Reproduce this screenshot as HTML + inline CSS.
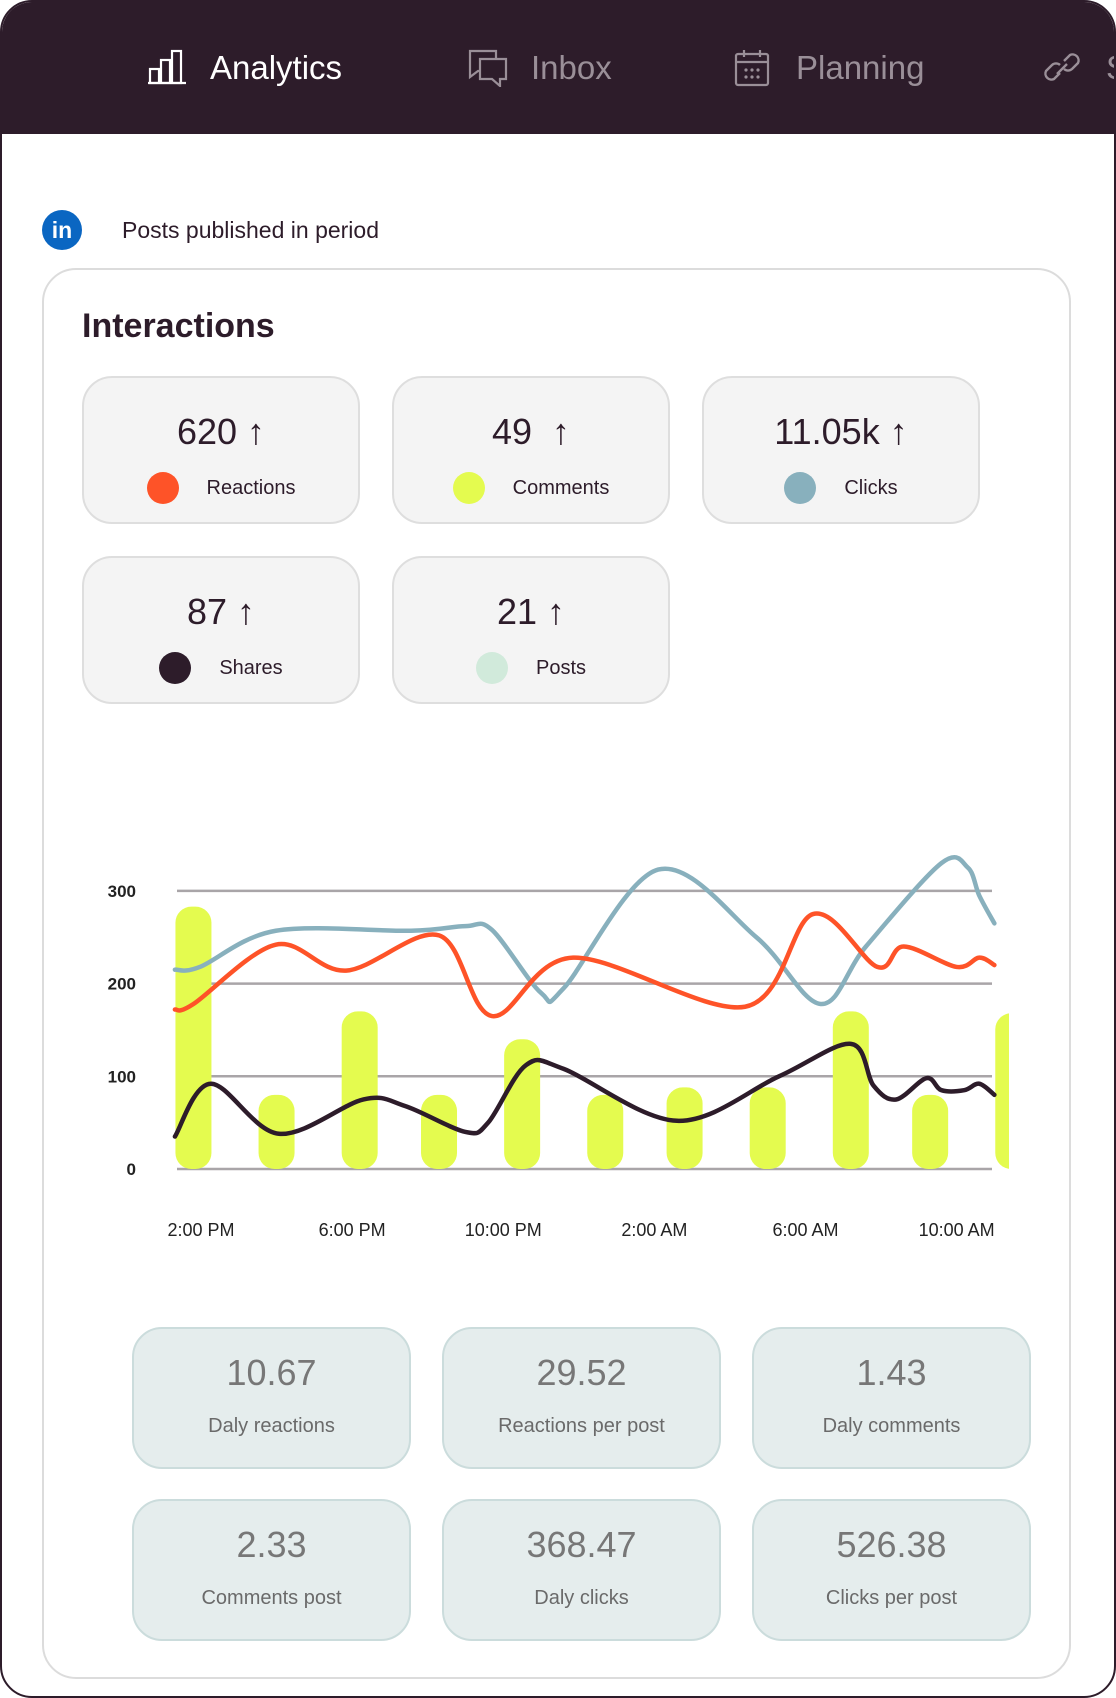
<!DOCTYPE html>
<html><head><meta charset="utf-8">
<style>
*{box-sizing:border-box;margin:0;padding:0}
body{width:1116px;height:1698px;background:#fff;font-family:"Liberation Sans",sans-serif;color:#2d1c2a;overflow:hidden;position:relative}
#frame{position:absolute;left:0;top:0;width:1116px;height:1698px;border:2px solid #2d1c2a;border-radius:32px;overflow:hidden;background:#fff}
#header{position:absolute;left:0;top:0;width:1116px;height:132px;background:#2d1c2a}
.tab{position:absolute;top:47px;font-size:33px;color:#9a8f98;white-space:nowrap}
.tab.active{color:#fff}
.tab svg{position:absolute;top:0}
#card{position:absolute;left:40px;top:266px;width:1029px;height:1411px;border:2px solid #dcdcdc;border-radius:34px}
.stat{position:absolute;width:278px;height:148px;background:#f4f4f4;border:2px solid #dedede;border-radius:30px}
.stat .num{position:absolute;left:0;right:0;top:33px;text-align:center;font-size:36px}
.stat .lab{position:absolute;left:0;right:0;top:94px;display:flex;justify-content:center;align-items:center;gap:28px;font-size:20px}
.dot{width:32px;height:32px;border-radius:50%}
.met{position:absolute;width:279px;height:142px;background:#e5eded;border:2px solid #cbdcdc;border-radius:30px;color:#777}
.met .v{position:absolute;left:0;right:0;top:23px;text-align:center;font-size:36px}
.met .l{position:absolute;left:0;right:0;top:86px;text-align:center;font-size:20px;color:#6a6a6a}
</style></head><body>
<div id="frame">
<div id="header">
 <div class="tab active" style="left:146px">
  <svg width="38" height="36" viewBox="0 0 38 36" style="left:0"><g fill="none" stroke="#fff" stroke-width="2.2"><rect x="2" y="20" width="9" height="14"/><rect x="13" y="11" width="9" height="23"/><rect x="24" y="2" width="9" height="32"/><line x1="0" y1="34" x2="38" y2="34"/></g></svg>
  <span style="margin-left:62px">Analytics</span></div>
 <div class="tab" style="left:466px">
  <svg width="40" height="38" viewBox="0 0 40 38" style="left:0"><g fill="none" stroke="#9a8f98" stroke-width="2.2"><path d="M2 2h26v20H10l-8 6z"/><path d="M12 10h26v20h-6v7l-8-7H12z" fill="#2d1c2a"/></g></svg>
  <span style="margin-left:63px">Inbox</span></div>
 <div class="tab" style="left:732px">
  <svg width="36" height="38" viewBox="0 0 36 38" style="left:0"><g fill="none" stroke="#9a8f98" stroke-width="2.2"><rect x="2" y="5" width="32" height="31" rx="2"/><line x1="2" y1="13" x2="34" y2="13"/><line x1="10" y1="1" x2="10" y2="8"/><line x1="26" y1="1" x2="26" y2="8"/></g><g fill="#9a8f98"><circle cx="12" cy="21" r="1.6"/><circle cx="18" cy="21" r="1.6"/><circle cx="24" cy="21" r="1.6"/><circle cx="12" cy="28" r="1.6"/><circle cx="18" cy="28" r="1.6"/><circle cx="24" cy="28" r="1.6"/></g></svg>
  <span style="margin-left:62px">Planning</span></div>
 <div class="tab" style="left:1040px">
  <svg width="44" height="40" viewBox="0 0 44 40" style="left:0"><g fill="none" stroke="#9a8f98" stroke-width="2.4"><path d="M18 24l-6 6a6 6 0 0 1-8-8l6-6a6 6 0 0 1 8 0"/><path d="M22 12l6-6a6 6 0 0 1 8 8l-6 6a6 6 0 0 1-8 0"/><line x1="15" y1="25" x2="25" y2="15"/></g></svg>
  <span style="margin-left:64px">S</span></div>
</div>

<svg style="position:absolute;left:40px;top:208px" width="40" height="40"><circle cx="20" cy="20" r="20" fill="#0a66c2"/><text x="20" y="28" text-anchor="middle" font-family="Liberation Sans" font-weight="bold" font-size="23" fill="#fff">in</text></svg>
<div style="position:absolute;left:120px;top:215px;font-size:23px">Posts published in period</div>

<div id="card">
 <div style="position:absolute;left:38px;top:37px;font-size:34px;font-weight:bold;color:#2d1c2a">Interactions</div>
 <div class="stat" style="left:38px;top:106px"><div class="num">620 ↑</div><div class="lab"><span class="dot" style="background:#fe5328"></span><span>Reactions</span></div></div>
 <div class="stat" style="left:348px;top:106px"><div class="num">49 &nbsp;↑</div><div class="lab"><span class="dot" style="background:#e4fb4f"></span><span>Comments</span></div></div>
 <div class="stat" style="left:658px;top:106px"><div class="num">11.05k ↑</div><div class="lab"><span class="dot" style="background:#88b0bd"></span><span>Clicks</span></div></div>
 <div class="stat" style="left:38px;top:286px"><div class="num">87 ↑</div><div class="lab"><span class="dot" style="background:#2d1c2a"></span><span>Shares</span></div></div>
 <div class="stat" style="left:348px;top:286px"><div class="num">21 ↑</div><div class="lab"><span class="dot" style="background:#d1eadb"></span><span>Posts</span></div></div>
</div>

<svg id="chart" style="position:absolute;left:0;top:0" width="1116" height="1698">
 <defs><clipPath id="cp"><rect x="170" y="800" width="837" height="400"/></clipPath></defs>
 <g id="grid"></g><g id="bars" clip-path="url(#cp)"></g><g id="lines"></g><g id="ylab"></g><g id="xlab"></g>
</svg>

<div class="met" style="left:130px;top:1325px"><div class="v">10.67</div><div class="l">Daly reactions</div></div>
<div class="met" style="left:440px;top:1325px"><div class="v">29.52</div><div class="l">Reactions per post</div></div>
<div class="met" style="left:750px;top:1325px"><div class="v">1.43</div><div class="l">Daly comments</div></div>
<div class="met" style="left:130px;top:1497px"><div class="v">2.33</div><div class="l">Comments post</div></div>
<div class="met" style="left:440px;top:1497px"><div class="v">368.47</div><div class="l">Daly clicks</div></div>
<div class="met" style="left:750px;top:1497px"><div class="v">526.38</div><div class="l">Clicks per post</div></div>
</div>

<script>
const yTicks=[0,100,200,300];
const xTickLabels=["2:00 PM","6:00 PM","10:00 PM","2:00 AM","6:00 AM","10:00 AM"];
const xTickHours=[0,4,8,12,16,20];
const barHours=[-0.2,2.0,4.2,6.3,8.5,10.7,12.8,15.0,17.2,19.3,21.5];
const barValues=[283,80,170,80,140,80,88,88,170,80,168];
const reactHours=[-0.69,-0.2,1.98,3.84,6.3,7.7,9.85,14.4,16.2,17.9,18.6,20.0,20.6,21.0];
const reactValues=[172,178,242,214,252,165,228,175,275,218,240,218,228,220];
const clickHours=[-0.69,-0.03,1.98,5.56,7.0,7.7,9.0,9.6,12.1,14.7,16.4,17.6,19.6,20.3,20.6,21.0];
const clickValues=[215,218,257,257,262,258,190,195,323,250,178,240,330,325,295,265];
const shareHours=[-0.69,0.26,2.06,4.3,5.4,7.0,7.6,8.6,9.6,12.6,15.3,17.2,17.8,18.4,19.2,19.6,20.2,20.6,21.0];
const shareValues=[35,92,38,75,68,40,50,112,108,52,100,135,90,75,98,85,85,92,80];

const NS="http://www.w3.org/2000/svg";
const X=h=>199+h*37.78;
const Y=v=>1167-v*0.927;
function mk(t,a,p){const e=document.createElementNS(NS,t);for(const k in a)e.setAttribute(k,a[k]);p.appendChild(e);return e;}
const grid=document.getElementById('grid'),ylab=document.getElementById('ylab'),xlab=document.getElementById('xlab'),bars=document.getElementById('bars'),lines=document.getElementById('lines');
yTicks.forEach(v=>{
 const l=mk('line',{x1:175,x2:990,y1:Y(v),y2:Y(v),stroke:'#a9a5a8','stroke-width':2.5},grid);
 
 
 const t=mk('text',{x:134,y:Y(v)+6,'text-anchor':'end','font-size':17,'font-weight':'bold',fill:'#222','font-family':'Liberation Sans'},ylab);
 t.textContent=v;
 
 
});
xTickLabels.forEach((s,i)=>{
 const t=mk('text',{x:X(xTickHours[i]),y:1234,'text-anchor':'middle','font-size':18,fill:'#222','font-family':'Liberation Sans'},xlab);
 t.textContent=s;
 
 
});
barValues.forEach((v,i)=>{
 const w=36,top=Y(v);
 const r=mk('rect',{x:X(barHours[i])-w/2,y:top,width:w,height:Y(0)-top,rx:16,fill:'#e4fb4f'},bars);
 
 
});
function smooth(hs,vs){
 const p=hs.map((h,i)=>[X(h),Y(vs[i])]);
 let d='M'+p[0][0]+' '+p[0][1];
 for(let i=0;i<p.length-1;i++){
  const p0=p[i-1]||p[i],p1=p[i],p2=p[i+1],p3=p[i+2]||p2;
  const c1=[p1[0]+(p2[0]-p0[0])/6,p1[1]+(p2[1]-p0[1])/6];
  const c2=[p2[0]-(p3[0]-p1[0])/6,p2[1]-(p3[1]-p1[1])/6];
  d+=` C${c1[0]} ${c1[1]},${c2[0]} ${c2[1]},${p2[0]} ${p2[1]}`;
 }
 return d;
}
[[clickHours,clickValues,'#88b0bd','clicks-line'],[reactHours,reactValues,'#fe5328','reactions-line'],[shareHours,shareValues,'#2d1c2a','shares-line']].forEach(s=>{
 const p=mk('path',{d:smooth(s[0],s[1]),fill:'none',stroke:s[2],'stroke-width':4.5,'stroke-linecap':'round','stroke-linejoin':'round'},lines);
 
 
});
</script>
</body></html>
